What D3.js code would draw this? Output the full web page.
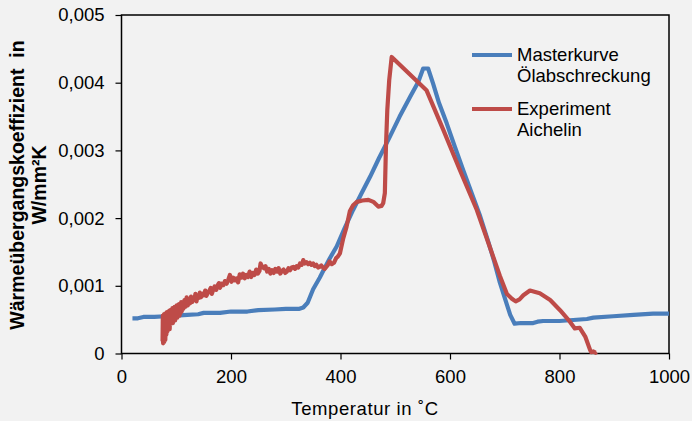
<!DOCTYPE html>
<html><head><meta charset="utf-8">
<script src="https://cdn.jsdelivr.net/npm/d3@7"></script>
<style>
html,body{margin:0;padding:0;background:#f2f2f2;}
text{font-family:"Liberation Sans",Arial,sans-serif;fill:#000;}
</style></head>
<body>
<svg id="c" width="692" height="421"></svg>
<script>
const xTicks = [0,200,400,600,800,1000];
const yTicks = [0,0.001,0.002,0.003,0.004,0.005];
const seriesNames = ["Masterkurve\nÖlabschreckung","Experiment\nAichelin"];
const xTitle = "Temperatur in \u02DAC";
const yTitle = ["Wärmeübergangskoeffizient  in","W/mm²K"];

const masterT = [20,30,40,60,80,100,120,140,150,180,200,230,250,280,300,325,332,340,350,362,369,380,393,408,423,438,454,470,490,508,527,542,551,560,569,580,594,609,624,640,655,670,680,691,700,710,718,730,752,760,770,800,850,862,898,935,971,1000];
const masterH = [0.00052,0.00052,0.00054,0.00054,0.00055,0.00056,0.00057,0.00058,0.0006,0.0006,0.00062,0.00062,0.00064,0.00065,0.00066,0.00066,0.00068,0.00075,0.00095,0.00112,0.00123,0.0014,0.00158,0.00186,0.00212,0.00236,0.00261,0.00288,0.0032,0.0035,0.00379,0.00401,0.00421,0.00421,0.00399,0.0037,0.0034,0.00305,0.00271,0.00236,0.00203,0.00165,0.00138,0.00105,0.00082,0.00057,0.00044,0.00045,0.00045,0.00047,0.00048,0.00048,0.00051,0.00053,0.00055,0.00057,0.00059,0.00059];

const expT = [75,75.5,76,76.5,77,77.5,78,78.5,79,79.5,80,81,82,83,84,85,86,87,88,89,90,91,92,93,94,95,96,97,98,99,100,101,102,103,104,105,106,107,108,109,110,112,113,115,117,119,121,123,125,127,129,131,133,135,137,139,141,143,145,148,150,153,155,158,160,163,165,168,170,173,175,178,180,183,186,189,192,195,198,201,204,207,210,213,216,219,222,225,228,231,234,237,240,243,246,249,252,254,257,260,263,266,269,272,275,278,281,284,287,290,293,296,299,302,305,308,311,314,317,320,323,326,329,332,335,338,341,344,347,350,353,356,359,362,365,368,371,374,377,380,384,388,392,395,399,405,411,417,423,430,440,451,460,469,475,478,481,483,485.5,489,493.5,557,588,618,649,691,704,713,720,727,734,746,764,783,801,819,828,837,847,856,858,862,866,868];
const expH = [0.00018,0.00056,0.00015,0.0005,0.00022,0.00058,0.00017,0.00052,0.00026,0.00059,0.0002,0.00055,0.00028,0.00061,0.00033,0.00057,0.00038,0.00063,0.00036,0.00064,0.00044,0.00061,0.00047,0.00067,0.00045,0.00065,0.0005,0.00069,0.00049,0.00066,0.00054,0.00071,0.00053,0.00068,0.00058,0.00073,0.00056,0.00071,0.0006,0.00076,0.00062,0.00074,0.00066,0.00079,0.00069,0.00083,0.00071,0.00078,0.00074,0.00084,0.00076,0.00081,0.00079,0.00088,0.00077,0.00085,0.00082,0.0009,0.00083,0.00088,0.00086,0.00093,0.00085,0.0009,0.00092,0.00097,0.00088,0.00095,0.00099,0.00094,0.001,0.00104,0.00097,0.00103,0.00101,0.00107,0.00103,0.00109,0.00116,0.00106,0.00112,0.00108,0.00111,0.00105,0.00117,0.00112,0.00118,0.00111,0.00116,0.00113,0.00121,0.00113,0.00119,0.00116,0.00124,0.00118,0.00122,0.00133,0.00128,0.00126,0.00129,0.00121,0.00125,0.00118,0.00123,0.00119,0.00125,0.00121,0.00126,0.00118,0.00122,0.00124,0.00119,0.00121,0.00126,0.00123,0.00127,0.00128,0.00125,0.00129,0.00127,0.00133,0.00131,0.00138,0.00133,0.00135,0.00132,0.00134,0.00131,0.00133,0.00129,0.00131,0.00127,0.00128,0.0013,0.00127,0.00125,0.00128,0.00131,0.00136,0.00132,0.00134,0.00141,0.00143,0.00148,0.0017,0.00187,0.0021,0.00219,0.00224,0.00226,0.00227,0.00224,0.00217,0.00218,0.00222,0.00237,0.00305,0.0036,0.00404,0.00438,0.00389,0.0033,0.00271,0.00212,0.00115,0.00088,0.00081,0.00077,0.0008,0.00086,0.00093,0.00089,0.00079,0.00064,0.00047,0.00037,0.00038,0.00025,0.00005,0.00002,0.00003,0.00001,0.00002];

const colors = ["#4a7ebb","#be4b48"];

const svg = d3.select("#c");
const L=121.5, R=669, T=15, B=353.5;
const x = d3.scaleLinear().domain([0,1000]).range([L,R]);
const y = d3.scaleLinear().domain([0,0.005]).range([B,T]);
const fmt = d => d===0 ? "0" : d3.format(".3f")(d).replace(".",",");

svg.append("rect").attr("x",L).attr("y",T).attr("width",R-L).attr("height",B-T)
  .attr("fill","none").attr("stroke","#000").attr("stroke-width",1.5);

const xa = svg.append("g").attr("transform",`translate(0,${B})`)
  .call(d3.axisBottom(x).tickValues(xTicks).tickSize(6).tickPadding(10).tickFormat(d=>d));
xa.select(".domain").remove();
xa.selectAll("line").attr("stroke","#000").attr("stroke-width",1.2);
xa.selectAll("text").style("font-size","18.5px").style("font-family","Liberation Sans, Arial, sans-serif");

const ya = svg.append("g").attr("transform",`translate(${L},0)`)
  .call(d3.axisLeft(y).tickValues(yTicks).tickSize(6).tickPadding(11).tickFormat(fmt));
ya.select(".domain").remove();
ya.selectAll("line").attr("stroke","#000").attr("stroke-width",1.2);
ya.selectAll("text").style("font-size","18.5px").style("font-family","Liberation Sans, Arial, sans-serif");

const line = d3.line().x(d=>x(d[0])).y(d=>y(d[1]));
const series = [d3.zip(masterT,masterH), d3.zip(expT,expH)];
series.forEach((s,i)=>{
  svg.append("path").datum(s).attr("d",line).attr("fill","none")
    .attr("stroke",colors[i]).attr("stroke-width",4.2).attr("stroke-linejoin","round");
});

const legY=[55,109];
seriesNames.forEach((n,i)=>{
  svg.append("line").attr("x1",472).attr("x2",512).attr("y1",legY[i]).attr("y2",legY[i])
    .attr("stroke",colors[i]).attr("stroke-width",4.2);
  const t = svg.append("text").attr("x",517).attr("y",legY[i]+6).style("font-size","18.5px");
  n.split("\n").forEach((s,j)=>t.append("tspan").attr("x",517).attr("dy",j?21:0).text(s));
});

svg.append("text").attr("x",365).attr("y",415).attr("text-anchor","middle")
  .style("font-size","18.5px").style("letter-spacing","0.6px").style("white-space","pre").text(xTitle);
yTitle.forEach((s,i)=>{
  svg.append("text").attr("transform",`translate(${i?46:24},185) rotate(-90)`)
    .attr("text-anchor","middle").style("font-size","19.5px").style("font-weight","bold")
    .style("white-space","pre").text(s);
});
</script>
</body></html>
